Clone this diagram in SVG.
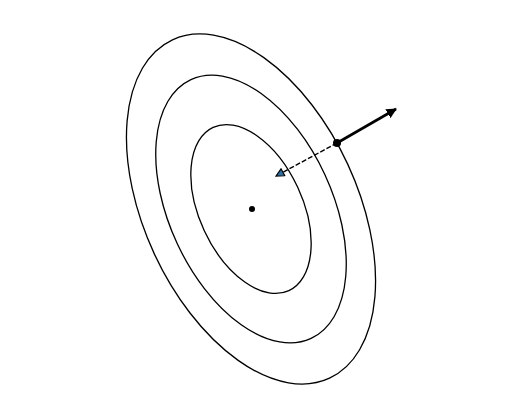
<svg xmlns="http://www.w3.org/2000/svg" width="528" height="418" viewBox="0 0 528 418">
<style>
.contour{fill:none;stroke:#000;stroke-width:1.3}
.dot{fill:#000}
</style>
<defs>
<marker id="headBlack" viewBox="0 0 10 10" refX="9" refY="5" markerWidth="4" markerHeight="4" orient="auto" markerUnits="strokeWidth">
<path d="M0,0 L10,5 L0,10 z" fill="#000"/>
</marker>
<marker id="headBlue" viewBox="0 0 10 10" refX="9" refY="5" markerWidth="7" markerHeight="7" orient="auto" markerUnits="strokeWidth">
<path d="M1,1 L9,5 L1,9 z" fill="#2f6f9f" stroke="#000" stroke-width="1.2"/>
</marker>
</defs>
<rect width="528" height="418" fill="#fff"/>
<g id="contours" transform="translate(251,209) rotate(-24.9)">
<ellipse id="outer" class="contour" cx="0" cy="0" rx="106.6" ry="186.5"/>
<ellipse id="middle" class="contour" cx="0" cy="0" rx="81.5" ry="142.7"/>
<ellipse id="inner" class="contour" cx="0" cy="0" rx="51.5" ry="90"/>
</g>
<g id="center"><circle class="dot" cx="252" cy="209" r="3"/></g>
<g id="point"><circle class="dot" cx="337" cy="143" r="4"/></g>
<g id="connectors">
<line x1="337" y1="143" x2="396" y2="109" stroke="#000" stroke-width="2.6" marker-end="url(#headBlack)"/>
<line x1="337" y1="143" x2="276" y2="176" stroke="#000" stroke-width="1.4" stroke-dasharray="5,2" marker-end="url(#headBlue)"/>
</g>
</svg>
